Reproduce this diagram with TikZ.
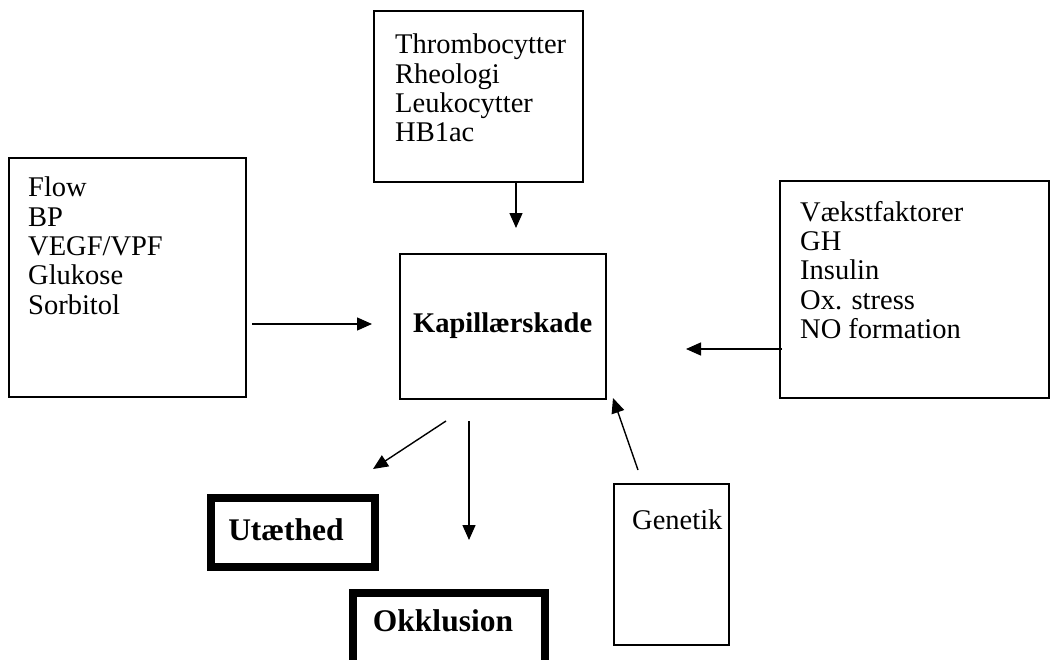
\documentclass[tikz,border=0pt]{standalone}
\usepackage{fontspec}
\setmainfont{Liberation Serif}
\usetikzlibrary{arrows.meta}
\begin{document}
\begin{tikzpicture}[x=1pt,y=-1pt,
  box/.style={draw, line width=1.5pt, anchor=north west, inner sep=0pt},
  heavybox/.style={draw, line width=8pt, anchor=north west, inner sep=0pt},
  arr/.style={-{Triangle[length=15pt,width=13pt]}, line width=1.4pt},
  txt/.style={font=\fontsize{28.5}{29.3}\selectfont, align=left, anchor=north west, inner sep=0pt},
  btxt/.style={font=\bfseries\fontsize{31.5}{34}\selectfont, inner sep=0pt}]
\useasboundingbox (0,0) rectangle (1055,659);
% boxes
\node[box, minimum width=209pt, minimum height=171pt] (top) at (373,10) {};
\node[box, minimum width=237pt, minimum height=239pt] (left) at (8,157) {};
\node[box, minimum width=206pt, minimum height=145pt] (kap) at (399,253) {};
\node[box, minimum width=269pt, minimum height=217pt] (right) at (779,180) {};
\node[box, minimum width=115pt, minimum height=161pt] (gen) at (613,483) {};
\node[heavybox, minimum width=164pt, minimum height=69pt] (ut) at (207,494) {};
\node[heavybox, minimum width=192pt, minimum height=90pt] (ok) at (349,589) {};
% texts
\node[txt] (ttop) at (395,34) {Thrombocytter\\Rheologi\\Leukocytter\\HB1ac};
\node[txt] (tleft) at (28,177) {Flow\\BP\\VEGF/VPF\\Glukose\\Sorbitol};
\node[txt] (tright) at (800,201) {Vækstfaktorer\\GH\\Insulin\\Ox. stress\\NO formation};
\node[txt] (tgen) at (632,510) {Genetik};
\node[btxt, anchor=west, font=\bfseries\fontsize{28.5}{30}\selectfont] (tkap) at (413,326) {Kapillærskade};
\node[btxt] (tut) at (286,530) {Utæthed};
\node[btxt] (tok) at (443,621) {Okklusion};
% arrows
\coordinate (a1) at (516,228);
\draw[arr] (top.south -| a1) -- (a1);
\coordinate (a2s) at (252,324);
\coordinate (a2e) at (372,324);
\draw[arr] (a2s) -- (a2e);
\coordinate (a3s) at (782,349);
\coordinate (a3e) at (686,349);
\draw[arr] (a3s) -- (a3e);
\coordinate (a4s) at (446,421);
\coordinate (a4e) at (373,469);
\draw[arr] (a4s) -- (a4e);
\coordinate (a5s) at (469,421);
\coordinate (a5e) at (469,540);
\draw[arr] (a5s) -- (a5e);
\coordinate (a6s) at (638,470);
\coordinate (a6e) at (613,398);
\draw[arr] (a6s) -- (a6e);
\end{tikzpicture}
\end{document}
